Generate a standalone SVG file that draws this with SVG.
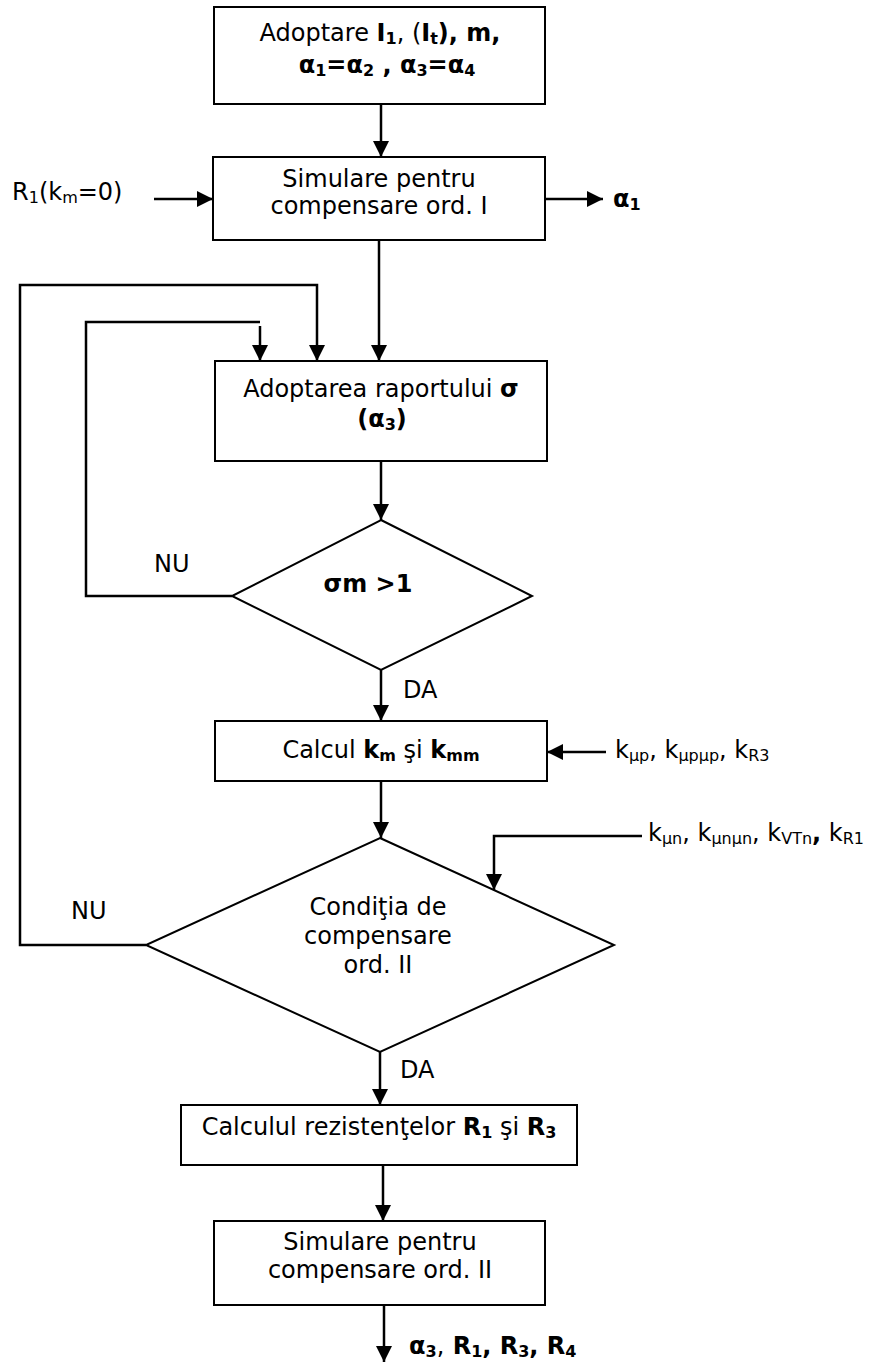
<svg xmlns="http://www.w3.org/2000/svg" width="881" height="1364" viewBox="0 0 881 1364">
<defs>
<marker id="ah" markerUnits="userSpaceOnUse" markerWidth="16" markerHeight="16" refX="16" refY="8" orient="auto">
<path d="M0,0 L16,8 L0,16 z" fill="#000"/>
</marker>
<style>
.box{fill:#fff;stroke:#000;stroke-width:2}
.t{font-family:"DejaVu Sans","Verdana",sans-serif;font-size:24px;fill:#000}
.m{text-anchor:middle}
.b{font-weight:bold}
.s{font-size:16px}
.c{fill:none;stroke:#000;stroke-width:2.5}
.a{marker-end:url(#ah)}
</style>
</defs>
<rect width="881" height="1364" fill="#fff"/>
<g id="connectors">
<path class="c a" d="M381,104 V157"/>
<path class="c a" d="M154,199 H213"/>
<path class="c a" d="M545,199 H603"/>
<path class="c a" d="M379,240 V361"/>
<path class="c a" d="M146,945 H20 V285 H317 V361"/>
<path class="c" d="M232,596 H86 V322 H260"/>
<path class="c a" d="M260,326 V361"/>
<path class="c a" d="M381,461 V520"/>
<path class="c a" d="M381,670 V721"/>
<path class="c a" d="M606,752 H547"/>
<path class="c a" d="M381,781 V838"/>
<path class="c a" d="M642,836 H494 V890"/>
<path class="c a" d="M380,1052 V1105"/>
<path class="c a" d="M383,1165 V1221"/>
<path class="c a" d="M384,1305 V1362"/>
</g>
<g id="n1">
<rect class="box" x="214" y="7" width="331" height="97"/>
<text class="t m" x="380" y="41">Adoptare <tspan class="b">I</tspan><tspan class="b s" dy="3">1</tspan><tspan dy="-3">, (</tspan><tspan class="b">I</tspan><tspan class="b s" dy="3">t</tspan><tspan class="b" dy="-3">), m,</tspan></text>
<text class="t m b" x="387" y="73">α<tspan class="s" dy="3">1</tspan><tspan dy="-3">=α</tspan><tspan class="s" dy="3">2</tspan><tspan dy="-3"> , α</tspan><tspan class="s" dy="3">3</tspan><tspan dy="-3">=α</tspan><tspan class="s" dy="3">4</tspan></text>
</g>
<g id="in1">
<text class="t" x="12" y="200">R<tspan class="s" dy="3">1</tspan><tspan dy="-3">(k</tspan><tspan class="s" dy="3">m</tspan><tspan dy="-3">=0)</tspan></text>
</g>
<g id="out1">
<text class="t b" x="613" y="207">α<tspan class="s" dy="3">1</tspan></text>
</g>
<g id="n2">
<rect class="box" x="213" y="157" width="332" height="83"/>
<text class="t m" x="379" y="187">Simulare pentru</text>
<text class="t m" x="379" y="214">compensare ord. I</text>
</g>
<g id="n3">
<rect class="box" x="215" y="361" width="332" height="100"/>
<text class="t m" x="381" y="397">Adoptarea raportului <tspan class="b">σ</tspan></text>
<text class="t m b" x="382" y="427">(α<tspan class="s" dy="3">3</tspan><tspan dy="-3">)</tspan></text>
</g>
<g id="d1">
<polygon class="box" points="381,520 532,596 381,670 232,596"/>
<text class="t m b" x="368" y="592">σm &gt;1</text>
<text class="t" x="154" y="572">NU</text>
<text class="t" x="403" y="698">DA</text>
</g>
<g id="n4">
<rect class="box" x="215" y="721" width="332" height="60"/>
<text class="t m" x="381" y="758">Calcul <tspan class="b">k</tspan><tspan class="b s" dy="3">m</tspan><tspan dy="-3"> şi </tspan><tspan class="b">k</tspan><tspan class="b s" dy="3">mm</tspan></text>
</g>
<g id="in2">
<text class="t" x="615" y="758">k<tspan class="s" dy="3">μp</tspan><tspan dy="-3">, k</tspan><tspan class="s" dy="3">μpμp</tspan><tspan dy="-3">, k</tspan><tspan class="s" dy="3">R3</tspan></text>
</g>
<g id="d2">
<polygon class="box" points="380,838 614,945 380,1052 146,945"/>
<text class="t m" x="378" y="915">Condiţia de</text>
<text class="t m" x="378" y="944">compensare</text>
<text class="t m" x="378" y="973">ord. II</text>
<text class="t" x="71" y="919">NU</text>
<text class="t" x="400" y="1078">DA</text>
</g>
<g id="in3">
<text class="t" x="648" y="841">k<tspan class="s" dy="3">μn</tspan><tspan dy="-3">, k</tspan><tspan class="s" dy="3">μnμn</tspan><tspan dy="-3">, k</tspan><tspan class="s" dy="3">VTn</tspan><tspan class="b" dy="-3">,</tspan> k<tspan class="s" dy="3">R1</tspan></text>
</g>
<g id="n5">
<rect class="box" x="181" y="1105" width="396" height="60"/>
<text class="t m" x="379" y="1135">Calculul rezistenţelor <tspan class="b">R</tspan><tspan class="b s" dy="3">1</tspan><tspan dy="-3"> şi </tspan><tspan class="b">R</tspan><tspan class="b s" dy="3">3</tspan></text>
</g>
<g id="n6">
<rect class="box" x="214" y="1221" width="331" height="84"/>
<text class="t m" x="380" y="1250">Simulare pentru</text>
<text class="t m" x="380" y="1278">compensare ord. II</text>
</g>
<g id="out2">
<text class="t b" x="409" y="1354">α<tspan class="s" dy="3">3</tspan><tspan dy="-3" font-weight="normal">,</tspan><tspan> R</tspan><tspan class="s" dy="3">1</tspan><tspan dy="-3">, R</tspan><tspan class="s" dy="3">3</tspan><tspan dy="-3">, R</tspan><tspan class="s" dy="3">4</tspan></text>
</g>
</svg>
